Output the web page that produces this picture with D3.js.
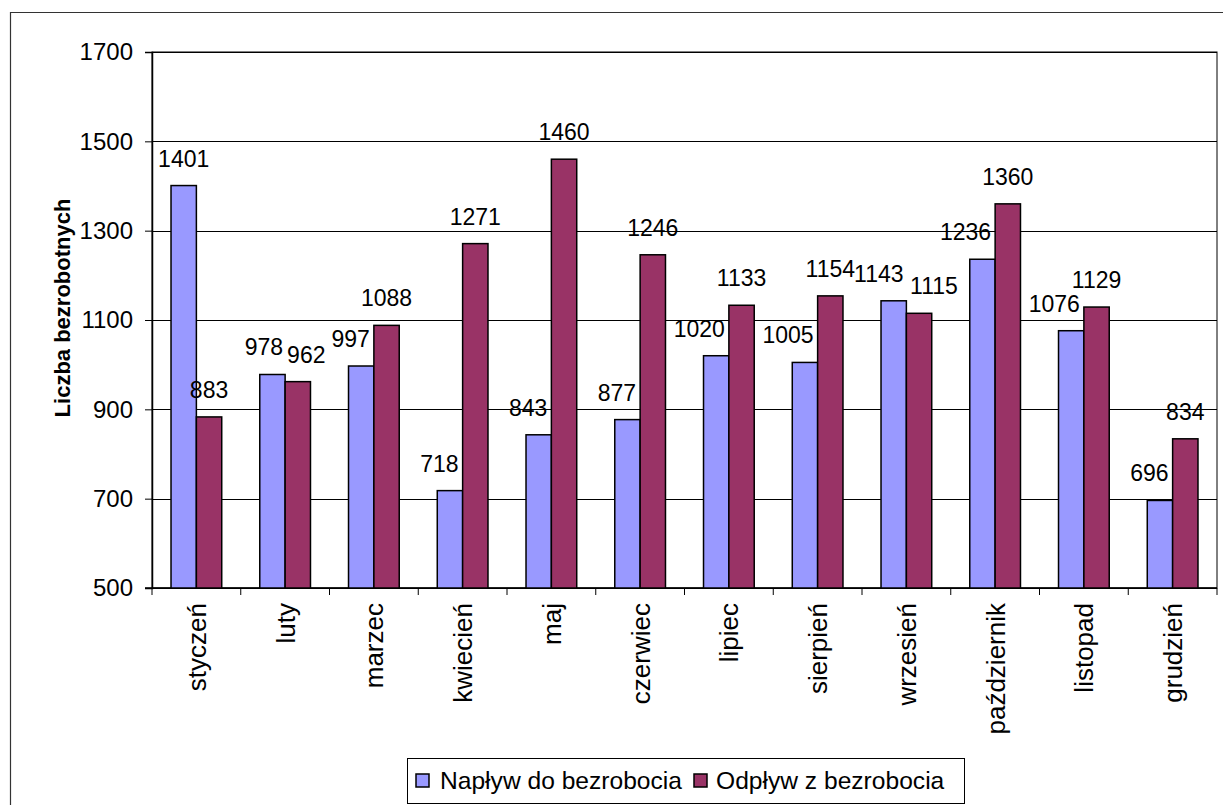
<!DOCTYPE html>
<html><head><meta charset="utf-8">
<script src="https://cdn.jsdelivr.net/npm/d3@7"></script>
<style>
body{margin:0;background:#fff;}
svg{display:block;font-family:"Liberation Sans",Arial,sans-serif;}
</style></head>
<body><svg id="c" width="1223" height="805"></svg>
<script>
const months = ["styczeń","luty","marzec","kwiecień","maj","czerwiec","lipiec","sierpień","wrzesień","październik","listopad","grudzień"];
const inflow = [1401,978,997,718,843,877,1020,1005,1143,1236,1076,696];
const outflow = [883,962,1088,1271,1460,1246,1133,1154,1115,1360,1129,834];
const seriesNames = ["Napływ do bezrobocia","Odpływ z bezrobocia"];
const colors = ["#9999FF","#993366"];
const yTicks = [500,700,900,1100,1300,1500,1700];

const svg = d3.select("#c");
const L=152,R=1217,T=52,B=588;
// outer frame
svg.append("path").attr("d","M10.5,805 L10.5,12.5 L1223,12.5").attr("fill","none").attr("stroke","#333").attr("stroke-width",1.2);

const x0 = d3.scaleBand().domain(months).range([L,R]).paddingInner(0).paddingOuter(0);
const bw = x0.bandwidth()/3.5;
const y = d3.scaleLinear().domain([500,1700]).range([B,T]);

svg.append("rect").attr("x",L).attr("y",T).attr("width",R-L).attr("height",B-T).attr("fill","none").attr("stroke","#000").attr("stroke-width",1);
svg.append("g").selectAll("line").data(yTicks).join("line")
  .attr("x1",L).attr("x2",R).attr("y1",d=>Math.round(y(d))+0.5).attr("y2",d=>Math.round(y(d))+0.5)
  .attr("stroke","#000").attr("stroke-width",1);

// y axis
const ya = svg.append("g").attr("transform",`translate(${L},0)`).call(d3.axisLeft(y).tickValues(yTicks).tickSize(7).tickPadding(12).tickFormat(d3.format("d")));
ya.select(".domain").attr("stroke","#000").attr("stroke-width",1.5);
ya.selectAll("line").attr("stroke","#000");
ya.selectAll("text").attr("font-size",24).attr("font-family","Liberation Sans, Arial").attr("fill","#000");

// x axis
const xa = svg.append("g").attr("transform",`translate(0,${B})`);
xa.append("line").attr("x1",L-7).attr("x2",R).attr("y1",0).attr("y2",0).attr("stroke","#000").attr("stroke-width",1.5);
xa.selectAll("line.t").data(months.map((m,i)=>i).concat([12])).join("line").attr("class","t")
  .attr("x1",i=>L+i*x0.bandwidth()).attr("x2",i=>L+i*x0.bandwidth()).attr("y1",0).attr("y2",7).attr("stroke","#000");
xa.selectAll("text").data(months).join("text")
  .attr("transform",d=>`translate(${x0(d)+x0.bandwidth()/2},15) rotate(-90)`)
  .attr("text-anchor","end").attr("dy","0.36em").attr("font-size",26).attr("fill","#000").text(d=>d);

// bars
const data = months.map((m,i)=>({m, vals:[inflow[i],outflow[i]]}));
const g = svg.append("g");
data.forEach(d=>{
  d.vals.forEach((v,k)=>{
    const bx = x0(d.m)+x0.bandwidth()/2 + (k-1)*bw;
    g.append("rect").attr("x",bx).attr("y",y(v)).attr("width",bw).attr("height",B-y(v))
      .attr("fill",colors[k]).attr("stroke","#000").attr("stroke-width",1.5);
  });
});
// labels
const FS=23;
const lg = svg.append("g").attr("font-size",FS).attr("fill","#000");
data.forEach(d=>{
  const cx = x0(d.m)+x0.bandwidth()/2;
  const w = d.vals.map(v=>String(v).length*0.556*FS);
  // centre x of each label
  const pos = d.vals.map((v,k)=>({v, x: cx+(k-0.5)*bw, y: y(v)-19}));
  // inflow label drawn left-aligned to its bar's right edge when the outflow bar is taller
  if (d.vals[1] > d.vals[0]) pos[0].x = cx - 4 - w[0]/2;
  // push apart overlapping labels
  if (Math.abs(pos[0].y-pos[1].y) < 20) {
    const ov = (w[0]/2+w[1]/2) - (pos[1].x-pos[0].x);
    if (ov>0){ pos[0].x -= ov/2+2; pos[1].x += ov/2+2; }
  }
  pos.forEach(p=>lg.append("text").attr("x",p.x).attr("y",p.y).attr("text-anchor","middle").text(p.v));
});

// y title
svg.append("text").attr("transform",`translate(62,${(T+B)/2-12}) rotate(-90)`).attr("text-anchor","middle")
  .attr("dy","0.36em").attr("font-size",22).attr("font-weight","bold").text("Liczba bezrobotnych");

// legend
const leg = svg.append("g");
leg.append("rect").attr("x",407.5).attr("y",758.5).attr("width",557).attr("height",45).attr("fill","#fff").attr("stroke","#000").attr("stroke-width",1);
const lx=[416,694], tx=[440,716];
seriesNames.forEach((n,k)=>{
  leg.append("rect").attr("x",lx[k]).attr("y",774).attr("width",13).attr("height",13).attr("fill",colors[k]).attr("stroke","#000").attr("stroke-width",1.5);
  leg.append("text").attr("x",tx[k]).attr("y",789).attr("font-size",24.6).text(n);
});
</script></body></html>
